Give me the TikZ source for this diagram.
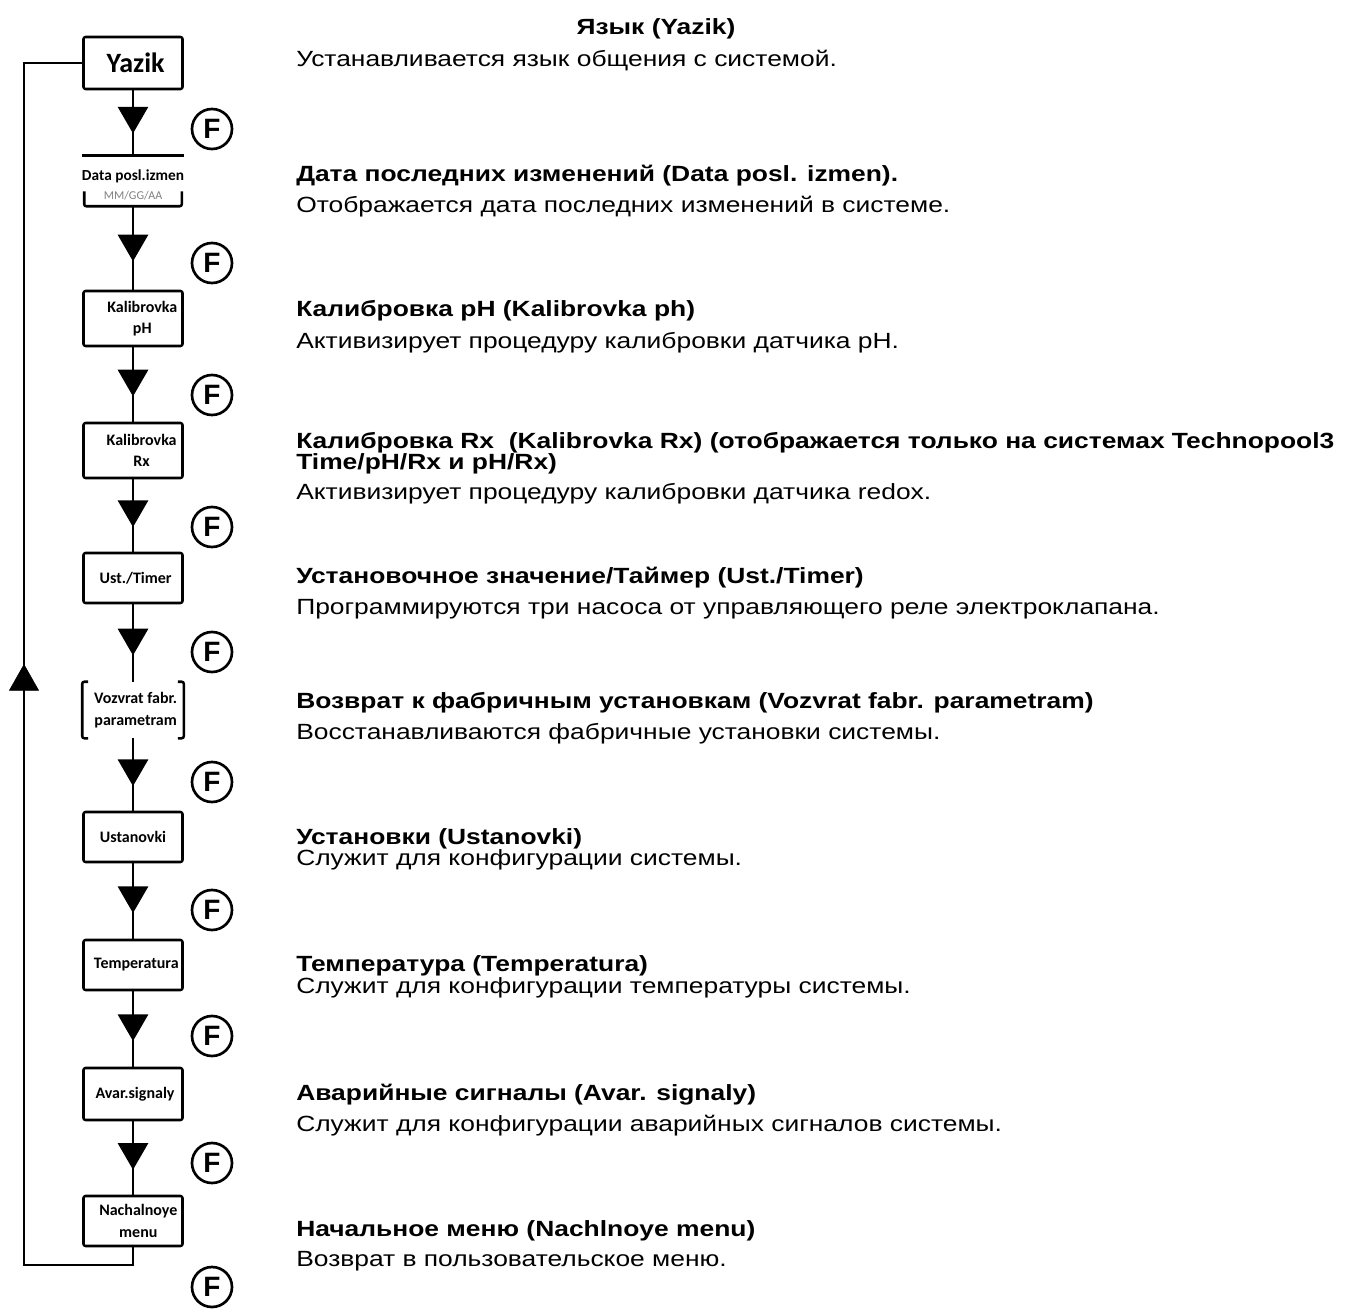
\documentclass[tikz,border=0pt]{standalone}
\usepackage{fontspec}
\setmainfont[FakeStretch=1.2]{Liberation Sans}
\newfontfamily\boxfont{Carlito}
\newfontfamily\keyfont{Liberation Sans}
\usetikzlibrary{arrows.meta,decorations.markings,calc}

% one unit = one pixel of the 1346 x 1309 sheet, y grows downwards
\tikzset{
  px/.style={x=0.75pt, y=-0.75pt},
  boxline/.style={line width=1.9pt, line join=round},
  menubox/.style={boxline, draw, rounded corners=1.5pt, minimum width=74.25pt,
    inner sep=0pt, align=center, font=\boxfont\bfseries\fontsize{12}{16}\selectfont},
  plainbox/.style={menubox, draw=none},
  flow/.style={line width=2.2pt},
  tipat/.style={postaction={decorate, decoration={markings,
    mark=at position #1 with {\arrow{Triangle[width=22.5pt,length=20pt]}}}}},
  fkey/.style={circle, draw, line width=2pt, minimum size=30pt, inner sep=0pt,
    font=\keyfont\bfseries\fontsize{21}{21}\selectfont},
  head/.style={anchor=base west, inner sep=0pt, font=\bfseries\fontsize{16.5}{18}\selectfont},
  desc/.style={anchor=base west, inner sep=0pt, font=\fontsize{16.5}{18}\selectfont},
}
% indent used to push a box label a little to the right
\newcommand{\nudge}[1]{\hspace*{#1}}

\begin{document}
\begin{tikzpicture}[px]
\useasboundingbox (0,0) rectangle (1346,1309);

% ---- menu boxes ----
\node[menubox, minimum height=39pt, font=\boxfont\bfseries\fontsize{21}{21}\selectfont] (yazik) at (133,63) {\nudge{4pt}Yazik};
\node[plainbox, minimum height=36pt] (data) at (133,181) {};
\node[inner sep=0pt, font=\boxfont\bfseries\fontsize{11.5}{14}\selectfont] (datat) at (133,176) {Data posl.izmen};
\node[inner sep=0pt, text=gray, font=\boxfont\fontsize{9}{10}\selectfont] (datafmt) at (133,196) {MM/GG/AA};
\node[menubox, minimum height=41.25pt] (kph) at (133,318.5) {\nudge{14pt}Kalibrovka\\\nudge{14pt}pH};
\node[menubox, minimum height=41.25pt] (krx) at (133,450.5) {\nudge{13pt}Kalibrovka\\\nudge{13pt}Rx};
\node[menubox, minimum height=37.5pt] (ust) at (133,578) {\nudge{4pt}Ust./Timer};
\node[plainbox, minimum height=40.5pt] (vozv) at (133,710) {\nudge{4pt}Vozvrat fabr.\\\nudge{4pt}parametram};
\node[menubox, minimum height=37.5pt] (ustan) at (133,837) {Ustanovki};
\node[menubox, minimum height=37.5pt] (temp) at (133,965) {\nudge{5pt}Temperatura};
\node[menubox, minimum height=39pt] (avar) at (133,1094) {\nudge{3pt}Avar.signaly};
\node[menubox, minimum height=37.5pt] (nach) at (133,1221) {\nudge{8pt}Nachalnoye\\\nudge{8pt}menu};

% open frames of the two odd boxes
\draw[boxline] (data.north west) -- (data.north east);
\draw[boxline, rounded corners=1.5pt] ($(data.south west)+(2,-15)$) -- ($(data.south west)+(2,0)$)
  -- ($(data.south east)+(-2,0)$) -- ($(data.south east)+(-2,-15)$);
\draw[boxline, rounded corners=1.5pt] ($(vozv.north west)+(6,0)$) -- (vozv.north west)
  -- (vozv.south west) -- ($(vozv.south west)+(6,0)$);
\draw[boxline, rounded corners=1.5pt] ($(vozv.north east)+(-6,0)$) -- (vozv.north east)
  -- (vozv.south east) -- ($(vozv.south east)+(-6,0)$);

% ---- downward flow with filled triangles ----
\foreach \a/\b in {yazik/data, data/kph, kph/krx, krx/ust, ust/vozv,
                   vozv/ustan, ustan/temp, temp/avar, avar/nach}
  \draw[flow, tipat=0.66] (\a.south) -- (\b.north);

% ---- return loop ----
\coordinate (loopbl) at (24,1265);
\draw[flow] (nach.south) |- (loopbl) |- (yazik.west);
\path[tipat=0.5] (loopbl) -- (loopbl |- yazik.west);

% ---- F keys ----
\foreach \n/\y in {1/129, 2/263, 3/395, 4/527, 5/652, 6/782, 7/910, 8/1036, 9/1163, 10/1287}
  \node[fkey] (f\n) at (212,\y) {F};

% ---- descriptions ----
\node[anchor=base, inner sep=0pt, font=\bfseries\fontsize{16.5}{18}\selectfont] (t1) at (656,35) {Язык (Yazik)};
\node[desc] (d1) at (296,67) {Устанавливается язык общения с системой.};

\node[head] (t2) at (296,182) {Дата последних изменений (Data posl. izmen).};
\node[desc] (d2) at (296,213) {Отображается дата последних изменений в системе.};

\node[head] (t3) at (296,316) {Калибровка pH (Kalibrovka ph)};
\node[desc] (d3) at (296,348) {Активизирует процедуру калибровки датчика pH.};

\node[head] (t4) at (296,448) {Калибровка Rx \ (Kalibrovka Rx) (отображается только на системах Technopool3};
\node[head] (t4b) at (296,469) {Time/pH/Rx и pH/Rx)};
\node[desc] (d4) at (296,499) {Активизирует процедуру калибровки датчика redox.};

\node[head] (t5) at (296,583) {Установочное значение/Таймер (Ust./Timer)};
\node[desc] (d5) at (296,614) {Программируются три насоса от управляющего реле электроклапана.};

\node[head] (t6) at (296,708) {Возврат к фабричным установкам (Vozvrat fabr. parametram)};
\node[desc] (d6) at (296,739) {Восстанавливаются фабричные установки системы.};

\node[head] (t7) at (296,844) {Установки (Ustanovki)};
\node[desc] (d7) at (296,865) {Служит для конфигурации системы.};

\node[head] (t8) at (296,971) {Температура (Temperatura)};
\node[desc] (d8) at (296,993) {Служит для конфигурации температуры системы.};

\node[head] (t9) at (296,1100) {Аварийные сигналы (Avar. signaly)};
\node[desc] (d9) at (296,1131) {Служит для конфигурации аварийных сигналов системы.};

\node[head] (t10) at (296,1236) {Начальное меню (Nachlnoye menu)};
\node[desc] (d10) at (296,1266) {Возврат в пользовательское меню.};
\end{tikzpicture}
\end{document}
